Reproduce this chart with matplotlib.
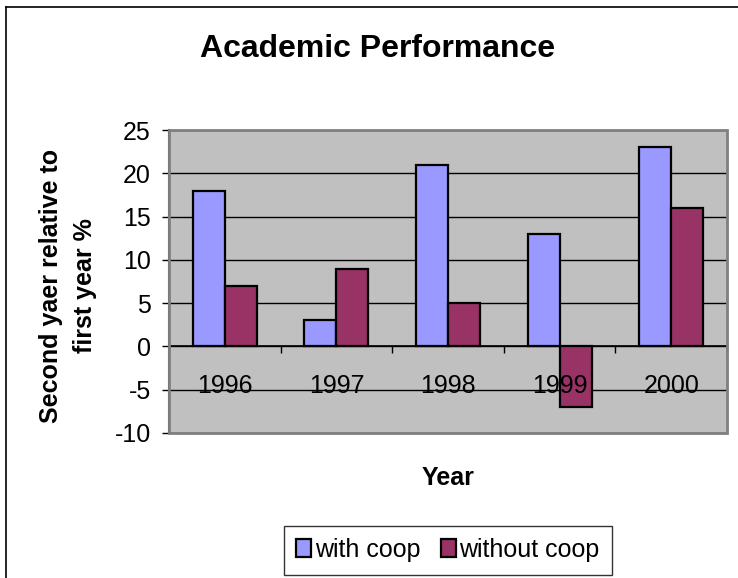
import matplotlib
matplotlib.use("Agg")
import matplotlib.pyplot as plt
from matplotlib.patches import Rectangle
from matplotlib.lines import Line2D
import numpy as np

years = ["1996", "1997", "1998", "1999", "2000"]
with_coop = [18, 3, 21, 13, 23]
without_coop = [7, 9, 5, -7, 16]
yticks = [-10, -5, 0, 5, 10, 15, 20, 25]

title = "Academic Performance"
xlabel = "Year"
ylabel = "Second yaer relative to\nfirst year %"
series_names = ["with coop", "without coop"]

plt.rcParams['font.family'] = ['Liberation Sans', 'DejaVu Sans']

W, H, DPI = 738, 578, 100
fig = plt.figure(figsize=(W / DPI, H / DPI), dpi=DPI)
fig.patch.set_facecolor('white')

L, R, T, B = 169, 727, 130, 433
ax = fig.add_axes([L / W, 1 - B / H, (R - L) / W, (B - T) / H])
ax.set_facecolor('#C0C0C0')

x = np.arange(len(years))
bw = 0.287
b1 = ax.bar(x - bw / 2, with_coop, bw, color='#9999FF', edgecolor='black', linewidth=1.6, zorder=3, label=series_names[0])
b2 = ax.bar(x + bw / 2, without_coop, bw, color='#993366', edgecolor='black', linewidth=1.6, zorder=3, label=series_names[1])

ax.set_xlim(-0.5, len(years) - 0.5)
ax.set_ylim(min(yticks), max(yticks))
ax.set_yticks(yticks)
ax.set_yticklabels([str(v) for v in yticks])
ax.yaxis.grid(True, color='black', linewidth=1.0, zorder=1)
ax.set_axisbelow(True)
ax.tick_params(axis='y', direction='out', length=5, width=1, pad=8, labelsize=18, color='black')

# category axis at zero
ax.spines['bottom'].set_position(('data', 0))
ax.spines['bottom'].set_color('black')
ax.spines['bottom'].set_linewidth(1.2)
ax.spines['bottom'].set_zorder(4)
ax.set_xticks(np.arange(-0.5, len(years), 1.0))
ax.set_xticklabels([])
ax.tick_params(axis='x', direction='out', length=5, width=1, color='black')
for xi, lab in zip(x, years):
    ax.annotate(lab, xy=(xi, 0), xytext=(0, -40), textcoords='offset pixels',
                ha='center', va='center', fontsize=18, zorder=6)

ax.spines['left'].set_color('#404040')
ax.spines['left'].set_linewidth(1.5)
ax.spines['top'].set_visible(False)
ax.spines['right'].set_visible(False)
# plot area border (gray)
ax.add_patch(Rectangle((0, 0), 1, 1, transform=ax.transAxes, fill=False,
                       edgecolor='#808080', linewidth=2.0, zorder=5, clip_on=False))

fig.text(378 / W, 1 - 49 / H, title, ha='center', va='center', fontsize=23, fontweight='bold')
fig.text(448 / W, 1 - 478 / H, xlabel, ha='center', va='center', fontsize=18, fontweight='bold')
fig.text(68 / W, 1 - 286 / H, ylabel, ha='center', va='center', fontsize=18,
         fontweight='bold', rotation=90, linespacing=1.55, multialignment='center')

leg = fig.legend(handles=[b1, b2], labels=series_names, loc='center',
                 bbox_to_anchor=(448 / W, 1 - 550 / H), ncol=2, frameon=True,
                 fancybox=False, shadow=False, fontsize=18, handlelength=0.6,
                 handleheight=0.75, handletextpad=0.15, columnspacing=0.8,
                 borderpad=0.5, borderaxespad=0)
leg.get_frame().set_edgecolor('black')
leg.get_frame().set_linewidth(1.0)

# outer chart border
fig.add_artist(Line2D([6 / W, 6 / W], [0, 1 - 7 / H], transform=fig.transFigure, color='black', linewidth=1.2))
fig.add_artist(Line2D([6 / W, 1], [1 - 7 / H, 1 - 7 / H], transform=fig.transFigure, color='black', linewidth=1.2))

fig.savefig('out.png', dpi=DPI)
